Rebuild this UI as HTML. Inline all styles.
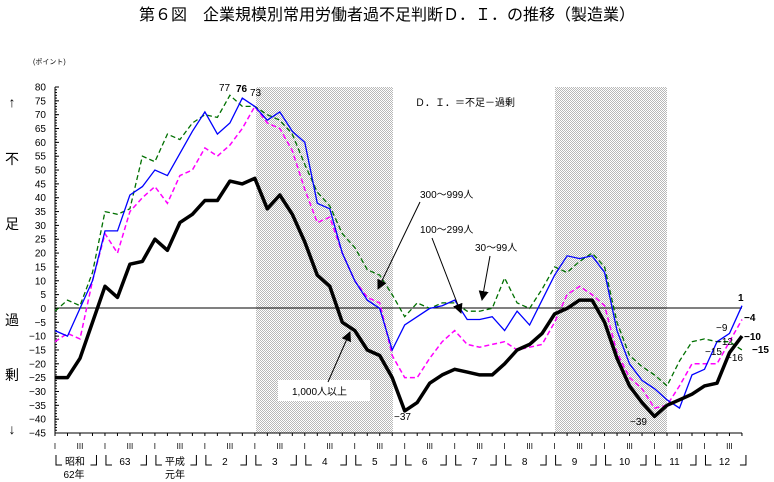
<!DOCTYPE html>
<html><head><meta charset="utf-8"><style>
body{margin:0;background:#fff;}
svg{display:block;font-family:"Liberation Sans","Noto Sans CJK JP",sans-serif;}
</style></head><body>
<svg id="s" width="774" height="482" viewBox="0 0 774 482" xmlns="http://www.w3.org/2000/svg">
<defs>
<pattern id="hp" width="2" height="2" patternUnits="userSpaceOnUse"><rect width="2" height="2" fill="#fff"/><rect width="1" height="1" fill="#b8b8b8"/><rect x="1" y="1" width="1" height="1" fill="#b8b8b8"/></pattern>
<marker id="ar" markerWidth="10" markerHeight="10" refX="9" refY="5" orient="auto" markerUnits="userSpaceOnUse"><path d="M0,0 L10,5 L0,10 z" fill="#000"/></marker>
</defs>
<text x="387" y="20" font-size="16" text-anchor="middle">第６図　企業規模別常用労働者過不足判断Ｄ．Ｉ．の推移（製造業）</text>
<text x="33" y="64" font-size="7">(ポイント)</text>
<rect x="256" y="87" width="137" height="346" fill="url(#hp)"/>
<rect x="555" y="87" width="112" height="346" fill="url(#hp)"/>
<g id="ax"></g>
<line x1="55" y1="308" x2="742" y2="308" stroke="#000" stroke-width="1"/>
<g font-size="14" text-anchor="middle">
<text x="12" y="107">↑</text><text x="12" y="164">不</text><text x="12" y="229">足</text>
<text x="12" y="325">過</text><text x="12" y="380">剰</text><text x="12" y="434">↓</text>
</g>
<text x="415" y="106" font-size="10">Ｄ．Ｉ．＝不足－過剰</text>
<g id="ser"></g>
<rect x="278" y="380" width="92" height="21" fill="#fff"/>
<text x="292" y="395" font-size="10">1,000人以上</text>
<text x="420" y="198" font-size="10">300～999人</text>
<text x="420" y="233" font-size="10">100～299人</text>
<text x="475" y="251" font-size="10">30～99人</text>
<g stroke="#000" stroke-width="1" marker-end="url(#ar)">
<line x1="420" y1="202" x2="378" y2="289"/>
<line x1="432" y1="238" x2="461" y2="313"/>
<line x1="490" y1="256" x2="482" y2="300"/>
<line x1="328" y1="382" x2="350" y2="332"/>
</g>
<g font-size="10">
<text x="219" y="91">77</text><text x="236" y="92" font-weight="bold">76</text><text x="250" y="96">73</text>
<text x="394" y="420">−37</text><text x="630" y="425">−39</text>
<text x="738" y="301" font-weight="bold">1</text><text x="744" y="321" font-weight="bold">−4</text>
<text x="744" y="340" font-weight="bold">−10</text><text x="752" y="353" font-weight="bold">−15</text>
<text x="716" y="331">−9</text><text x="716" y="345">−12</text><text x="705" y="355">−15</text><text x="726" y="361">−16</text>
</g>
<g id="xl" font-size="10" text-anchor="middle"></g>
</svg>
<script>
var X=function(i){return 55+i*12.49},Y=function(v){return 87+(80-v)*2.768};
var ax=document.getElementById('ax'),h='';
h+='<line x1="55" y1="87" x2="55" y2="433" stroke="#000"/><line x1="55" y1="433" x2="742" y2="433" stroke="#000"/>';
for(var v=80;v>=-45;v-=5){h+='<text x="46" y="'+(Y(v)+3.5)+'" font-size="10" text-anchor="end">'+(v<0?'−'+(-v):v)+'</text><line x1="55" y1="'+Y(v)+'" x2="59" y2="'+Y(v)+'" stroke="#000"/>';}
for(var v=80;v>-45;v-=1){h+='<line x1="55" y1="'+Y(v)+'" x2="57" y2="'+Y(v)+'" stroke="#000"/>';}
for(var i=0;i<56;i++)h+='<line x1="'+X(i)+'" y1="433" x2="'+X(i)+'" y2="436" stroke="#000"/>';
ax.innerHTML=h;
var D={
k:[-25,-25,-18,-5,8,4,16,17,25,21,31,34,39,39,46,45,47,36,41,34,24,12,8,-5,-8,-15,-17,-25,-37,-34,-27,-24,-22,-23,-24,-24,-20,-15,-13,-9,-2,0,3,3,-5,-18,-28,-34,-39,-35,-33,-31,-28,-27,-16,-10],
b:[-8,-10,0,10,28,28,41,44,50,48,56,64,71,63,67,76,73,68,71,64,60,38,36,20,10,3,0,-15,-6,-3,0,1,3,-4,-4,-3,-8,-1,-6,3,12,19,18,19,13,-8,-20,-26,-29,-33,-36,-24,-22,-12,-9,1],
g:[-1,3,1,13,35,34,36,55,53,63,61,67,70,69,77,73,73,70,68,63,52,42,37,27,22,14,12,5,-3,2,0,2,2,-1,-1,0,11,2,0,7,15,13,17,20,15,-5,-17,-21,-24,-28,-19,-12,-11,-12,-12,-15],
m:[-12,-9,-11,10,27,20,35,40,44,38,48,50,58,55,59,65,73,67,65,57,43,31,33,20,10,4,2,-17,-25,-25,-18,-12,-8,-13,-14,-13,-12,-15,-14,-13,-5,5,8,5,1,-16,-25,-29,-36,-35,-28,-20,-20,-20,-12,-4]};
function pts(a){return a.map(function(v,i){return X(i).toFixed(1)+','+Y(v).toFixed(1)}).join(' ')}
document.getElementById('ser').innerHTML=
'<polyline points="'+pts(D.g)+'" fill="none" stroke="#007000" stroke-width="1.3" stroke-dasharray="5,3"/>'+
'<polyline points="'+pts(D.m)+'" fill="none" stroke="#ff00ff" stroke-width="1.5" stroke-dasharray="5,3"/>'+
'<polyline points="'+pts(D.b)+'" fill="none" stroke="#0000ff" stroke-width="1.3"/>'+
'<polyline points="'+pts(D.k)+'" fill="none" stroke="#000" stroke-width="3.5" stroke-linejoin="round"/>';
var xl='',yrs=['昭和','63','平成','2','3','4','5','6','7','8','9','10','11','12'];
for(var y=0;y<14;y++){var x0=X(y*4);
xl+='<text x="'+x0+'" y="449" font-size="8">I</text><text x="'+X(y*4+2)+'" y="449" font-size="8">III</text>';
xl+='<path d="M'+(x0+1)+',455 v10 h6 M'+(X(y*4+3)+4)+',455 v10 h-6" fill="none" stroke="#000"/>';
xl+='<text x="'+X(y*4+1.6)+'" y="465">'+yrs[y]+'</text>';}
xl+='<text x="74" y="478">62年</text><text x="175" y="478">元年</text>';
document.getElementById('xl').innerHTML=xl;
</script>
</body></html>
